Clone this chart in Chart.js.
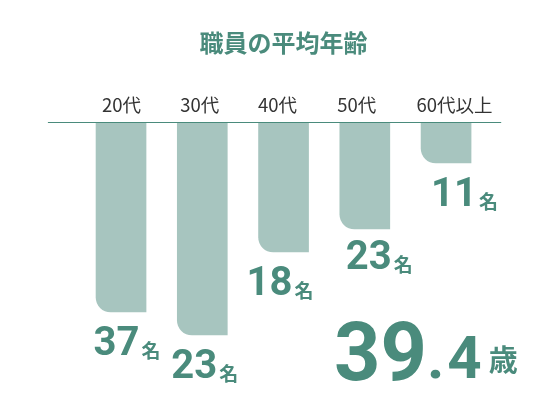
<!DOCTYPE html>
<html lang="ja">
<head>
<meta charset="utf-8">
<title>職員の平均年齢</title>
<script src="https://cdn.jsdelivr.net/npm/chart.js@4.4.1/dist/chart.umd.min.js"></script>
<style>
  html, body { margin: 0; padding: 0; background: #fff; }
  #wrap { width: 550px; height: 400px; position: relative; }
</style>
</head>
<body>
<div id="wrap"><canvas id="ageChart"></canvas></div>
<script>
// Data
const ageGroups = ['20代', '30代', '40代', '50代', '60代以上'];
const barLengths = [190, 213, 130, 107, 41];   // bar length as drawn
const staffCounts = [37, 23, 18, 23, 11];      // printed count labels
const countUnit = '名';
const averageAge = '39.4';
const averageUnit = '歳';

const GREEN = '#4a8b7c';
const BAR = '#a7c5bf';
const JP = '"Noto Sans CJK JP", "Noto Sans", sans-serif';
const NUM = 'Roboto, "Noto Sans", sans-serif';

// label placement relative to each bar (layout only)
const catDx = [0.5, -2.5, -6, -8, 8.5];
const labelDx = [-27.5, -31, -37, -19, -15];
const labelDy = [14, 14, 14, 11, 14];

// category names above the rule, placed from the x scale
const categoryPlugin = {
    id: 'categories',
    afterDraw(chart) {
        const ctx = chart.ctx;
        const xs = chart.scales.x;
        const y = chart.chartArea.top - 17.5;
        ctx.save();
        ctx.fillStyle = '#333';
        ctx.font = '18.5px ' + JP;
        ctx.textAlign = 'center';
        ctx.textBaseline = 'middle';
        ageGroups.forEach((name, i) => {
            ctx.fillText(name, xs.getPixelForValue(i) + catDx[i], y);
        });
        ctx.restore();
    }
};

// horizontal rule under the category labels
const rulePlugin = {
    id: 'rule',
    afterDatasetsDraw(chart) {
        const ctx = chart.ctx;
        const y = Math.round(chart.scales.y.getPixelForValue(0)) + 0.5;
        ctx.save();
        ctx.strokeStyle = GREEN;
        ctx.lineWidth = 1;
        ctx.beginPath();
        ctx.moveTo(chart.chartArea.left - 32.5, y);
        ctx.lineTo(chart.chartArea.right + 14.5, y);
        ctx.stroke();
        ctx.restore();
    }
};

// "37名" style labels under each bar
const countPlugin = {
    id: 'counts',
    afterDatasetsDraw(chart) {
        const ctx = chart.ctx;
        const meta = chart.getDatasetMeta(0);
        ctx.save();
        ctx.fillStyle = GREEN;
        ctx.textBaseline = 'alphabetic';
        ctx.textAlign = 'left';
        meta.data.forEach((bar, i) => {
            const x = bar.x + labelDx[i];
            const baseline = bar.y + labelDy[i] + 28.5;
            ctx.font = 'bold 40px ' + NUM;
            const txt = String(staffCounts[i]);
            ctx.fillText(txt, x, baseline);
            const w = ctx.measureText(txt).width;
            ctx.font = 'bold 19px ' + JP;
            ctx.fillText(countUnit, x + w + 2, baseline + 3);
        });
        ctx.restore();
    }
};

// big average age text
const averagePlugin = {
    id: 'average',
    afterDraw(chart) {
        const ctx = chart.ctx;
        const parts = averageAge.split('.');
        let x = 334;
        const baseline = 380;
        ctx.save();
        ctx.fillStyle = GREEN;
        ctx.textBaseline = 'alphabetic';
        ctx.font = 'bold 81px ' + NUM;
        ctx.fillText(parts[0], x, baseline);
        x += ctx.measureText(parts[0]).width;
        ctx.font = 'bold 60px ' + NUM;
        ctx.fillText('.', x, baseline - 2);
        x += ctx.measureText('.').width + 3;
        ctx.fillText(parts[1], x, baseline - 2);
        x += ctx.measureText(parts[1]).width;
        ctx.font = 'bold 29px ' + JP;
        ctx.fillText(averageUnit, x + 7, baseline - 9);
        ctx.restore();
    }
};

new Chart(document.getElementById('ageChart'), {
    type: 'bar',
    data: {
        labels: ageGroups,
        datasets: [{
            data: barLengths,
            backgroundColor: BAR,
            borderWidth: 0,
            barThickness: 50,
            borderRadius: { topLeft: 0, topRight: 0, bottomLeft: 15, bottomRight: 0 },
            borderSkipped: 'start'
        }]
    },
    options: {
        responsive: true,
        maintainAspectRatio: false,
        animation: false,
        events: [],
        layout: { padding: { left: 80.4, right: 63.3, top: 0, bottom: 28 } },
        plugins: {
            legend: { display: false },
            tooltip: { enabled: false },
            title: {
                display: true,
                text: '職員の平均年齢',
                color: GREEN,
                font: { family: JP, size: 24, weight: 'bold', lineHeight: 1.2 },
                padding: { top: 28.1, bottom: 0 }
            }
        },
        scales: {
            x: {
                position: 'top',
                grid: { display: false, drawTicks: false },
                border: { display: false },
                ticks: { display: false },
                afterFit(scale) { scale.height = 65.1; }
            },
            y: {
                display: false,
                reverse: true,
                min: 0,
                max: 250
            }
        }
    },
    plugins: [categoryPlugin, rulePlugin, countPlugin, averagePlugin]
});
</script>
</body>
</html>
